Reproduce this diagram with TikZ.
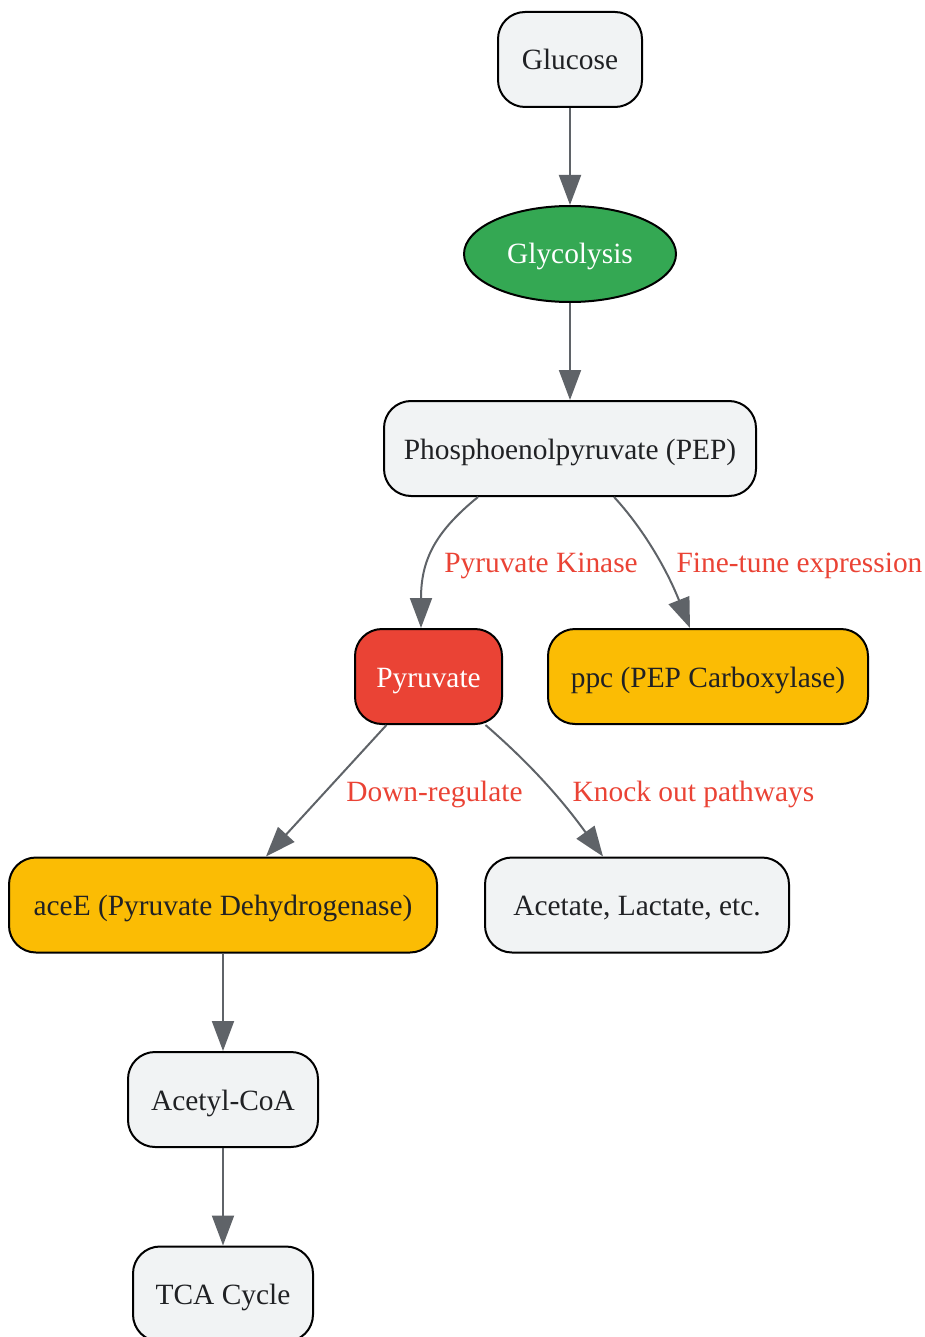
\documentclass[tikz,border=0pt]{standalone}
\usepackage{fontspec}
\setmainfont{Liberation Serif}
\usetikzlibrary{arrows.meta,calc,shapes.geometric}
\definecolor{edgegray}{HTML}{5F6368}
\definecolor{boxfill}{HTML}{F1F3F4}
\definecolor{ggreen}{HTML}{34A853}
\definecolor{gred}{HTML}{EA4335}
\definecolor{gyellow}{HTML}{FBBC04}
\definecolor{gtext}{HTML}{202124}
\tikzset{
  box/.style={draw=black, line width=2pt, rounded corners=27pt, fill=boxfill, text=gtext,
    minimum height=95pt, inner sep=0pt, text height=21pt, text depth=0pt,
    font=\fontsize{29.4}{35}\selectfont},
  oval/.style={ellipse, draw=black, line width=2pt, fill=ggreen, text=white,
    minimum width=212pt, minimum height=96pt, inner sep=0pt, text height=20pt, text depth=0pt,
    font=\fontsize{29.4}{35}\selectfont},
  conn/.style={draw=edgegray, line width=2pt, -{Triangle[length=30pt,width=22pt]}},
  elabel/.style={text=gred, font=\fontsize{29.4}{35}\selectfont, inner sep=0pt, anchor=base}
}
\begin{document}
\begin{tikzpicture}[x=1pt,y=-1pt]
\useasboundingbox (0,0) rectangle (924,1337);
\node[box, minimum width=144pt] (glucose) at (570,59.5) {Glucose};
\node[oval] (glyco) at (570,254) {Glycolysis};
\node[box, minimum width=372pt] (pep) at (570,448.5) {Phosphoenolpyruvate (PEP)};
\node[box, minimum width=147pt, fill=gred, text=white] (pyr) at (428.5,676.5) {Pyruvate};
\node[box, minimum width=320pt, fill=gyellow] (ppc) at (708,676.5) {ppc (PEP Carboxylase)};
\node[box, minimum width=428pt, fill=gyellow] (acee) at (223,905) {aceE (Pyruvate Dehydrogenase)};
\node[box, minimum width=304pt] (acet) at (637,905) {Acetate, Lactate, etc.};
\node[box, minimum width=190pt] (acoa) at (223,1099.5) {Acetyl-CoA};
\node[box, minimum width=180pt] (tca) at (223,1294) {TCA Cycle};

\draw[conn] (glucose.south) -- (glyco.north);
\draw[conn] (glyco.south) -- (pep.north);
\draw[conn] ([xshift=-92pt]pep.south) .. controls (435,532) and (421,560) .. ([xshift=-7.5pt]pyr.north);
\draw[conn] ([xshift=44pt]pep.south) .. controls (640,525) and (665,565) .. ([xshift=-18pt]ppc.north);
\draw[conn] ([xshift=-42pt]pyr.south) -- ([xshift=43pt]acee.north);
\draw[conn] ([xshift=57pt]pyr.south) .. controls (520,755) and (555,790) .. ([xshift=-34pt]acet.north);
\draw[conn] (acee.south) -- (acoa.north);
\draw[conn] (acoa.south) -- (tca.north);

\node[elabel] (l1) at (541,572) {Pyruvate Kinase};
\node[elabel] (l2) at (799.5,572) {Fine-tune expression};
\node[elabel] (l3) at (434.5,801) {Down-regulate};
\node[elabel] (l4) at (693.5,801) {Knock out pathways};
\end{tikzpicture}
\end{document}
